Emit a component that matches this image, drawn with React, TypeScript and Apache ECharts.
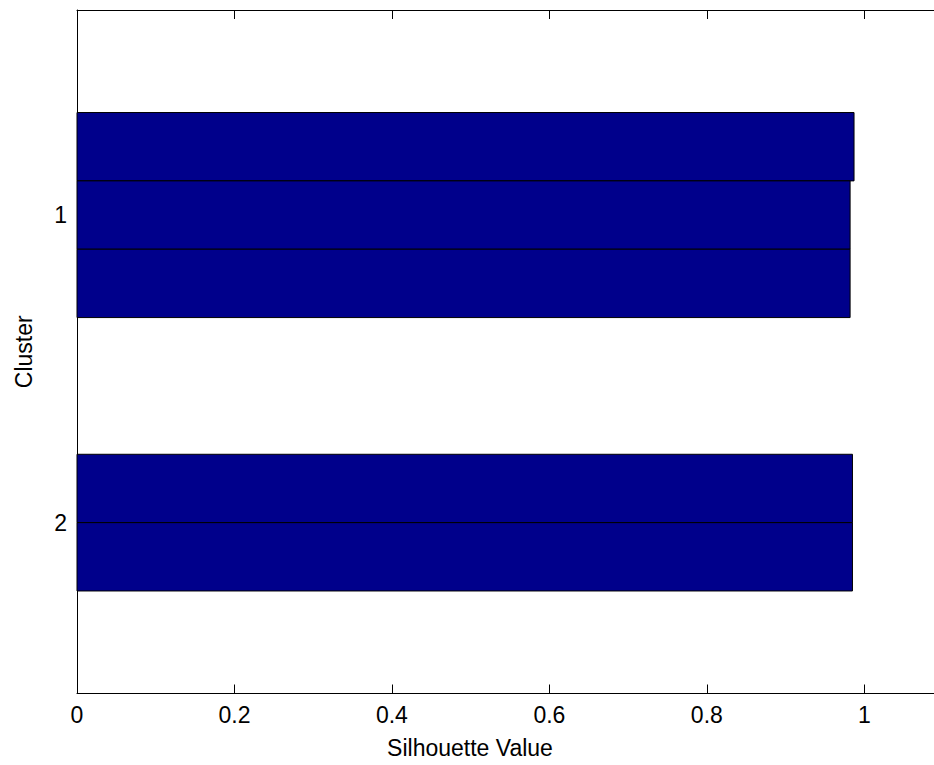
import React, { useEffect, useRef } from "react";
import * as echarts from "echarts";

// Silhouette values per point, grouped by cluster
const cluster1Values = [0.987, 0.982, 0.982];
const cluster2Values = [0.985, 0.985];
// Row positions of the bars (with blank rows between clusters)
const cluster1Rows = [1, 2, 3];
const cluster2Rows = [6, 7];
// Y tick positions & labels
const yTickRows = [2, 6.5];
const yTickLabels = ["1", "2"];
// X ticks
const xTickValues = [0, 0.2, 0.4, 0.6, 0.8, 1];
const xTickLabels = ["0", "0.2", "0.4", "0.6", "0.8", "1"];

const FONT = "'Liberation Sans', Arial, Helvetica, sans-serif";

export default function App() {
  const ref = useRef<HTMLDivElement>(null);
  useEffect(() => {
    if (!ref.current) return;
    const chart = echarts.init(ref.current, undefined, { renderer: "svg" });
    const data = [
      ...cluster1Values.map((v, i) => [v, cluster1Rows[i]]),
      ...cluster2Values.map((v, i) => [v, cluster2Rows[i]]),
    ];
    const xLabelFmt = (v: number) => {
      const idx = xTickValues.findIndex((t) => Math.abs(t - v) < 1e-9);
      return idx >= 0 ? xTickLabels[idx] : "";
    };
    const yLabelFmt = (v: number) => {
      const idx = yTickRows.findIndex((t) => Math.abs(t - v) < 1e-9);
      return idx >= 0 ? yTickLabels[idx] : "";
    };
    chart.setOption({
      animation: false,
      backgroundColor: "#ffffff",
      grid: { left: 77, right: 1, top: 10, bottom: 71.5, containLabel: false },
      xAxis: [
        {
          type: "value",
          min: 0,
          max: 1.1,
          position: "bottom",
          name: "Silhouette Value",
          nameLocation: "middle",
          nameGap: 43,
          nameTextStyle: { fontFamily: FONT, fontSize: 23, color: "#000", padding: [0, 80, 0, 0] },
          axisLine: { show: true, onZero: false, lineStyle: { color: "#000", width: 1 } },
          axisTick: { show: true, inside: true, length: 9, customValues: xTickValues, lineStyle: { color: "#000" } },
          axisLabel: {
            show: true,
            customValues: xTickValues,
            formatter: xLabelFmt,
            fontFamily: FONT,
            fontSize: 23,
            color: "#000",
            margin: 10,
          },
          splitLine: { show: false },
        },
        {
          type: "value",
          min: 0,
          max: 1.1,
          position: "top",
          axisLine: { show: true, onZero: false, lineStyle: { color: "#000", width: 1 } },
          axisTick: { show: true, inside: true, length: 9, customValues: xTickValues, lineStyle: { color: "#000" } },
          axisLabel: { show: false },
          splitLine: { show: false },
        },
      ],
      yAxis: [
        {
          type: "value",
          min: -1,
          max: 9,
          inverse: true,
          name: "Cluster",
          nameLocation: "middle",
          nameGap: 42,
          nameTextStyle: { fontFamily: FONT, fontSize: 23, color: "#000" },
          axisLine: { show: true, onZero: false, lineStyle: { color: "#000", width: 1 } },
          axisTick: { show: false },
          axisLabel: {
            show: true,
            customValues: yTickRows,
            formatter: yLabelFmt,
            fontFamily: FONT,
            fontSize: 23,
            color: "#000",
            margin: 10,
          },
          splitLine: { show: false },
        },
      ],
      series: [
        {
          type: "custom",
          xAxisIndex: 0,
          yAxisIndex: 0,
          data,
          renderItem: (params: any, api: any) => {
            const v = api.value(0);
            const p = api.value(1);
            const a = api.coord([0, p - 0.5]);
            const b = api.coord([v, p + 0.5]);
            return {
              type: "rect",
              shape: { x: a[0], y: a[1], width: b[0] - a[0], height: b[1] - a[1] },
              style: { fill: "#00008B", stroke: "#000", lineWidth: 1 },
            };
          },
        },
      ],
    });
    return () => chart.dispose();
  }, []);
  return (
    <div
      style={{ position: "fixed", left: 0, top: 0, width: 934, height: 765, overflow: "hidden", background: "#fff" }}
    >
      <div ref={ref} style={{ width: 944, height: 765 }} />
    </div>
  );
}
